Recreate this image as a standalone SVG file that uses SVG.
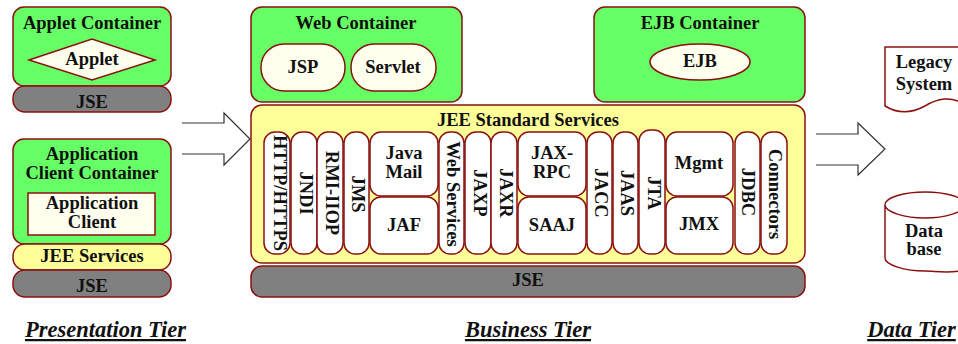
<svg xmlns="http://www.w3.org/2000/svg" width="958" height="344" viewBox="0 0 958 344">
<style>
text{font-family:"Liberation Serif","Times New Roman",serif;font-weight:bold;font-size:18.5px;fill:#111;text-anchor:middle}
.s{stroke:#8b1010;stroke-width:1.5}
.g{fill:#66ff66}.y{fill:#ffff99}.d{fill:#808080}.c{fill:#ffffee}.w{fill:#fff}.n{fill:none}
.a{fill:none;stroke:#333;stroke-width:1.2}
.t{font-style:italic;font-size:22.5px;text-decoration:underline}
</style>
<g id="connectors">
<path class="a" d="M182 123H224V113L250 139L224 165V154H182"/>
<path class="a" d="M816 134H858V123L885 149L858 175V165H816"/>
</g>
<g id="applet-container"><rect class="s g" x="13" y="7" width="158" height="79" rx="11"/><text x="92" y="29">Applet Container</text></g>
<g id="applet"><polygon class="s c" points="29,60 92,39 155,60 92,80"/><text x="92" y="65">Applet</text></g>
<g id="jse-applet"><rect class="s d" x="13" y="86" width="158" height="26" rx="12"/><text x="92" y="108">JSE</text></g>
<g id="app-client-container"><rect class="s g" x="13" y="139" width="158" height="105" rx="11"/><text x="92" y="160">Application</text><text x="92" y="179">Client Container</text></g>
<g id="app-client"><rect class="s c" x="28" y="193" width="127" height="42"/><text x="92" y="209">Application</text><text x="92" y="228">Client</text></g>
<g id="jee-services"><rect class="s y" x="13" y="244" width="158" height="26" rx="12"/><text x="92" y="262">JEE Services</text></g>
<g id="jse-client"><rect class="s d" x="13" y="270" width="158" height="27" rx="12"/><text x="92" y="292">JSE</text></g>
<g id="web-container"><rect class="s g" x="251" y="7" width="211" height="95" rx="11"/><text x="356" y="29">Web Container</text></g>
<g id="jsp"><rect class="s c" x="261" y="44" width="84" height="47" rx="23"/><text x="303" y="73">JSP</text></g>
<g id="servlet"><rect class="s c" x="351" y="44" width="85" height="47" rx="23"/><text x="393" y="73">Servlet</text></g>
<g id="ejb-container"><rect class="s g" x="594" y="7" width="211" height="95" rx="11"/><text x="700" y="29">EJB Container</text></g>
<g id="ejb"><ellipse class="s c" cx="700" cy="62" rx="50" ry="18"/><text x="700" y="67">EJB</text></g>
<g id="jee-standard"><rect class="s y" x="251" y="105" width="554" height="158" rx="11"/><text x="528" y="126">JEE Standard Services</text></g>
<g id="jse-business"><rect class="s d" x="251" y="266" width="554" height="31" rx="11"/><text x="528" y="286">JSE</text></g>
<g id="http"><rect class="s w" x="264" y="132" width="26" height="122" rx="11"/><text transform="translate(274,193) rotate(90)">HTTP/HTTPS</text></g>
<g id="jndi"><rect class="s w" x="291" y="132" width="26" height="122" rx="11"/><text transform="translate(300,193) rotate(90)">JNDI</text></g>
<g id="rmi"><rect class="s w" x="317" y="132" width="26" height="122" rx="11"/><text transform="translate(326,193) rotate(90)">RMI-IIOP</text></g>
<g id="jms"><rect class="s w" x="344" y="132" width="25" height="122" rx="11"/><text transform="translate(352,194) rotate(90)">JMS</text></g>
<g id="javamail"><rect class="s w" x="370" y="132" width="68" height="64" rx="11"/><text x="404" y="159">Java</text><text x="404" y="178">Mail</text></g>
<g id="jaf"><rect class="s w" x="370" y="197" width="68" height="57" rx="11"/><text x="404" y="231">JAF</text></g>
<g id="webservices"><rect class="s w" x="439" y="132" width="25" height="122" rx="11"/><text transform="translate(447,194) rotate(90)">Web Services</text></g>
<g id="jaxp"><rect class="s w" x="465" y="132" width="26" height="122" rx="11"/><text transform="translate(474,193) rotate(90)">JAXP</text></g>
<g id="jaxr"><rect class="s w" x="491" y="132" width="26" height="122" rx="11"/><text transform="translate(500,193) rotate(90)">JAXR</text></g>
<g id="jaxrpc"><rect class="s w" x="518" y="132" width="68" height="64" rx="11"/><text x="552" y="159">JAX-</text><text x="552" y="178">RPC</text></g>
<g id="saaj"><rect class="s w" x="518" y="197" width="68" height="57" rx="11"/><text x="552" y="231">SAAJ</text></g>
<g id="jacc"><rect class="s w" x="587" y="132" width="25" height="122" rx="11"/><text transform="translate(595,193) rotate(90)">JACC</text></g>
<g id="jaas"><rect class="s w" x="613" y="132" width="25" height="122" rx="11"/><text transform="translate(621,193) rotate(90)">JAAS</text></g>
<g id="jta"><rect class="s w" x="639" y="130" width="26" height="124" rx="11"/><text transform="translate(648,193) rotate(90)">JTA</text></g>
<g id="mgmt"><rect class="s w" x="666" y="132" width="67" height="64" rx="11"/><text x="699" y="169">Mgmt</text></g>
<g id="jmx"><rect class="s w" x="666" y="197" width="67" height="57" rx="11"/><text x="699" y="230">JMX</text></g>
<g id="jdbc"><rect class="s w" x="735" y="132" width="25" height="122" rx="11"/><text transform="translate(742,192) rotate(90)">JDBC</text></g>
<g id="connectors-box"><rect class="s w" x="761" y="132" width="26" height="122" rx="11"/><text transform="translate(769,194) rotate(90)">Connectors</text></g>
<g id="legacy"><path class="s n" d="M965 104C950 96 938 98 925 106C912 113 898 114 885 106V47H965"/><text x="924" y="68">Legacy</text><text x="924" y="90">System</text></g>
<g id="database"><path class="s n" d="M965 270C950 274 935 271 925 271C905 271 885 265 885 258V205C885 197 905 192 925 192C945 192 965 197 965 205C965 212 945 218 925 218C905 218 885 212 885 205"/><text x="924" y="237">Data</text><text x="924" y="255">base</text></g>
<g id="tiers"><text class="t" x="105.500" y="337">Presentation Tier</text><text class="t" x="528" y="337">Business Tier</text><text class="t" x="911.500" y="337">Data Tier</text></g>
</svg>
